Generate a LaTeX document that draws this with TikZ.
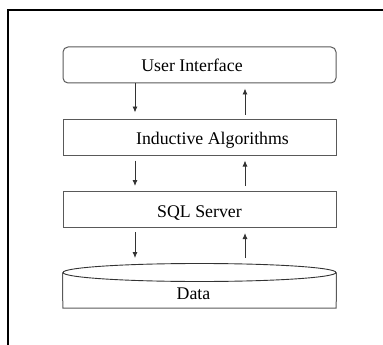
\documentclass[tikz,border=0pt]{standalone}
\usepackage{fontspec}
\setmainfont{Liberation Serif}
\usetikzlibrary{shapes.geometric,arrows.meta}
\begin{document}
\begin{tikzpicture}[x=1pt,y=-1pt,
  box/.style={draw=black!65, line width=1pt, minimum width=273pt, minimum height=36pt, inner sep=0pt},
  txt/.style={font=\fontsize{17.8}{20}\selectfont},
  arr/.style={draw=black!80, line width=0.9pt, -{Latex[length=6pt,width=5pt]}}
]
\useasboundingbox (0,0) rectangle (383,345);
\draw[line width=1.3pt] (8,345) -- (8,10) -- (390,10);
\node[box, rounded corners=5pt, label={[txt,xshift=-7.5pt]center:User Interface}] (ui) at (199.5,65) {};
\node[box, label={[txt,xshift=13pt,yshift=-3pt]center:Inductive Algorithms}] (ia) at (199.5,137) {};
\node[box, label={[txt,yshift=-4pt]center:SQL Server}] (sql) at (199.5,209.5) {};
\node[ellipse, draw=black!80, line width=0.9pt, minimum width=273pt, minimum height=18pt, inner sep=0pt] (dtop) at (199.5,272.5) {};
\node[minimum width=273pt, minimum height=35.5pt, inner sep=0pt, label={[txt,xshift=-6pt,yshift=-4pt]center:Data}] (dbody) at (199.5,290.25) {};
\draw[draw=black!65, line width=1pt] (dtop.west) -- (dbody.south west) -- (dbody.south east) -- (dtop.east);
% arrows
\draw[arr, shorten >=6pt] (ui.south -| 135,0) -- (ia.north -| 135,0);
\draw[arr, shorten <=4pt, shorten >=5pt] (ia.north -| 245,0) -- (ui.south -| 245,0);
\draw[arr, shorten <=5pt, shorten >=5pt] (ia.south -| 135,0) -- (sql.north -| 135,0);
\draw[arr, shorten <=5pt, shorten >=5pt] (sql.north -| 245,0) -- (ia.south -| 245,0);
\draw[arr, shorten <=4pt, shorten >=5pt] (sql.south -| 135,0) -- (dtop.north -| 135,0);
\draw[arr, shorten <=5pt, shorten >=5pt] (dtop.north -| 245,0) -- (sql.south -| 245,0);
\end{tikzpicture}
\end{document}
